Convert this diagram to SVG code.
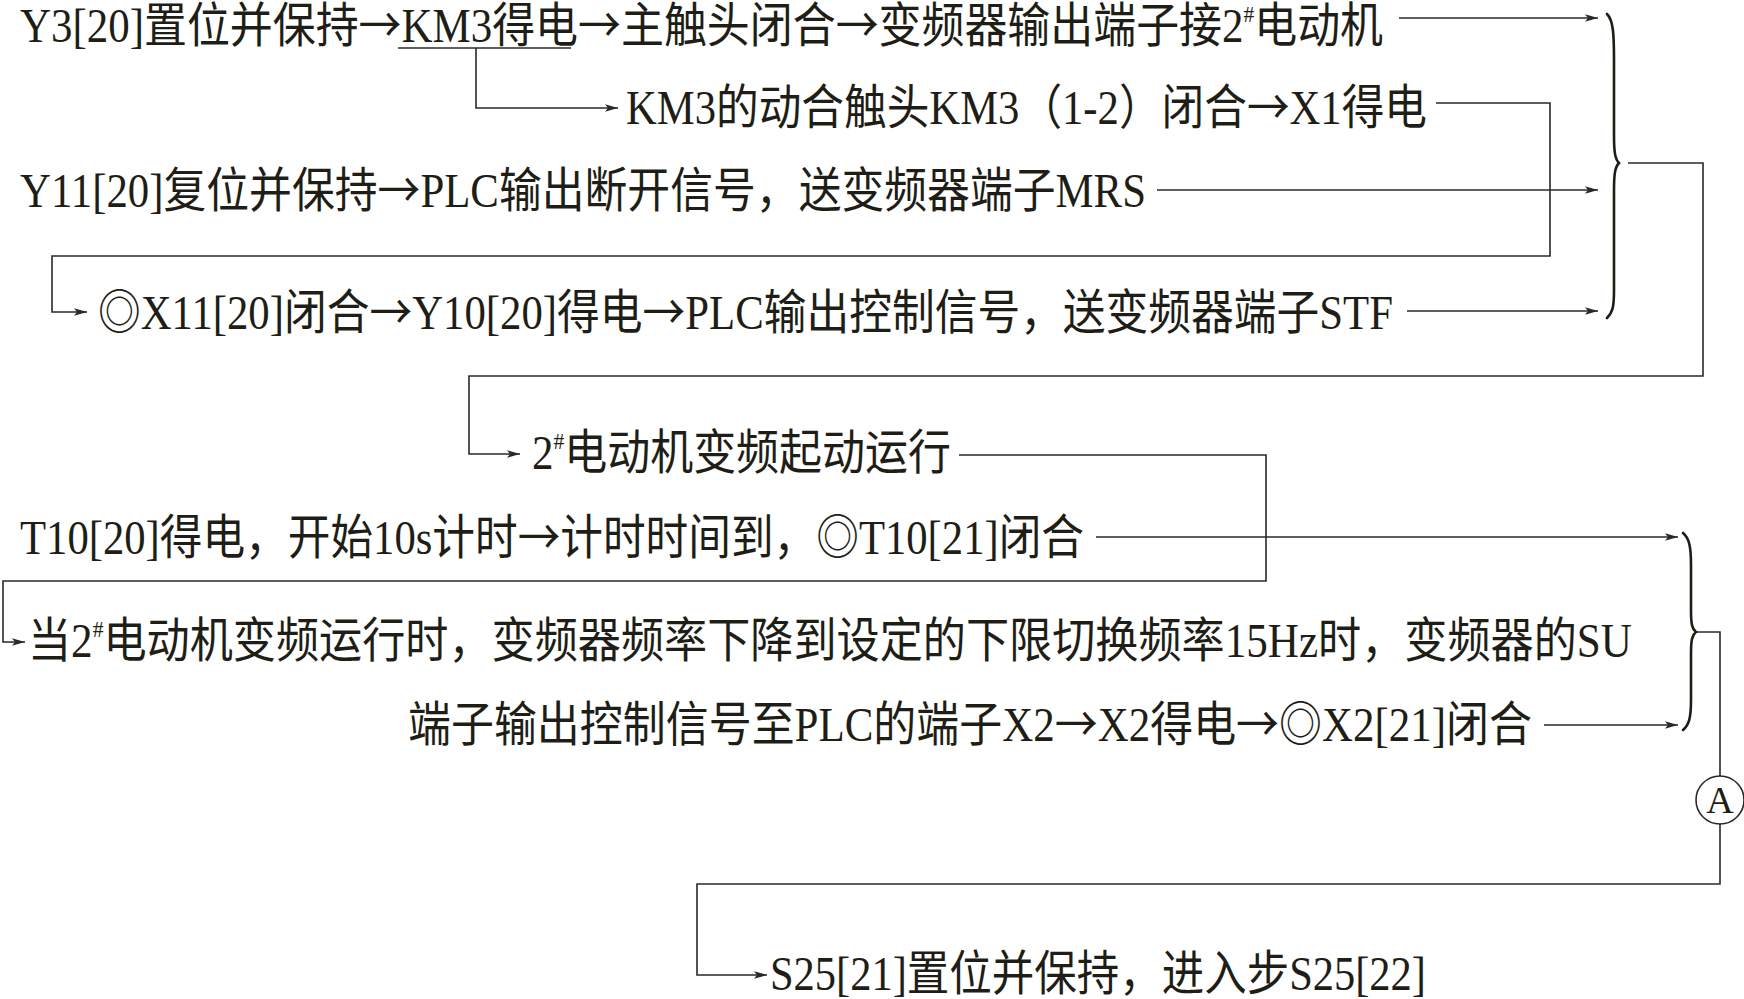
<svg xmlns="http://www.w3.org/2000/svg" width="1744" height="999" viewBox="0 0 1744 999">
<defs>
<style>
.t{font-family:"Liberation Serif","Noto Sans CJK SC",serif;font-size:48px;fill:#1e1e16}
.ar{font-family:"Noto Sans CJK SC",sans-serif}
.sup{font-size:24px}
.ln{fill:none;stroke:#2a2a24;stroke-width:1.6}
.br{fill:none;stroke:#1e1e16;stroke-width:2.6;stroke-linecap:round}
</style>
<marker id="ah" markerUnits="userSpaceOnUse" markerWidth="14" markerHeight="10" refX="13" refY="5" orient="auto">
<path d="M0,1.2 L13,5 L0,8.8 L3,5 z" fill="#2a2a24"/>
</marker>
</defs>
<rect width="1744" height="999" fill="#ffffff"/>

<g id="n1"><text class="t" x="20" y="42" textLength="1363" lengthAdjust="spacingAndGlyphs">Y3[20]置位并保持<tspan class="ar">→</tspan>KM3得电<tspan class="ar">→</tspan>主触头闭合<tspan class="ar">→</tspan>变频器输出端子接2<tspan class="sup" dy="-20">#</tspan><tspan dy="20">电动机</tspan></text></g>
<g id="n2"><text class="t" x="626" y="124" textLength="801" lengthAdjust="spacingAndGlyphs">KM3的动合触头KM3（1-2）闭合<tspan class="ar">→</tspan>X1得电</text></g>
<g id="n3"><text class="t" x="20" y="207" textLength="1126" lengthAdjust="spacingAndGlyphs">Y11[20]复位并保持<tspan class="ar">→</tspan>PLC输出断开信号，送变频器端子MRS</text></g>
<g id="n4"><text class="t" x="98" y="329" textLength="1295" lengthAdjust="spacingAndGlyphs">◎X11[20]闭合<tspan class="ar">→</tspan>Y10[20]得电<tspan class="ar">→</tspan>PLC输出控制信号，送变频器端子STF</text></g>
<g id="n5"><text class="t" x="532" y="469" textLength="419" lengthAdjust="spacingAndGlyphs">2<tspan class="sup" dy="-20">#</tspan><tspan dy="20">电动机变频起动运行</tspan></text></g>
<g id="n6"><text class="t" x="20" y="554" textLength="1064" lengthAdjust="spacingAndGlyphs">T10[20]得电，开始10s计时<tspan class="ar">→</tspan>计时时间到，◎T10[21]闭合</text></g>
<g id="n7"><text class="t" x="28" y="657" textLength="1604" lengthAdjust="spacingAndGlyphs">当2<tspan class="sup" dy="-20">#</tspan><tspan dy="20">电动机变频运行时，变频器频率下降到设定的下限切换频率15Hz时，变频器的SU</tspan></text></g>
<g id="n8"><text class="t" x="408" y="741" textLength="1124" lengthAdjust="spacingAndGlyphs">端子输出控制信号至PLC的端子X2<tspan class="ar">→</tspan>X2得电<tspan class="ar">→</tspan>◎X2[21]闭合</text></g>
<g id="n9"><text class="t" x="770" y="990" textLength="656" lengthAdjust="spacingAndGlyphs">S25[21]置位并保持，进入步S25[22]</text></g>
<g id="nA">
<circle cx="1720" cy="800" r="24" fill="#ffffff" stroke="#2a2a24" stroke-width="1.6"/>
<text x="1720" y="813" text-anchor="middle" style="font-family:'Liberation Serif',serif;font-size:38px;fill:#1e1e16">A</text>
</g>

<g id="connectors">
<path class="ln" d="M398,48 H571"/>
<path class="ln" d="M476,48 V108 H618" marker-end="url(#ah)"/>
<path class="ln" d="M1399,18 H1598" marker-end="url(#ah)"/>
<path class="ln" d="M1436,103 H1550 V256 H52 V312 H87" marker-end="url(#ah)"/>
<path class="ln" d="M1157,190 H1598" marker-end="url(#ah)"/>
<path class="ln" d="M1407,311 H1598" marker-end="url(#ah)"/>
<path class="br" d="M1607,14 C1613,20 1614,32 1614,60 L1614,135 C1614,152 1615,159 1619,163 C1615,167 1614,174 1614,191 L1614,290 C1614,306 1613,312 1607,318"/>
<path class="ln" d="M1628,163 H1703 V376 H469 V454 H520" marker-end="url(#ah)"/>
<path class="ln" d="M959,455 H1266 V581 H3 V642 H25" marker-end="url(#ah)"/>
<path class="ln" d="M1096,537 H1678" marker-end="url(#ah)"/>
<path class="ln" d="M1544,725 H1678" marker-end="url(#ah)"/>
<path class="br" d="M1683,533 C1689,538 1691,546 1691,565 L1691,610 C1691,624 1692,629 1696,632 C1692,635 1691,640 1691,654 L1691,700 C1691,718 1689,725 1683,730"/>
<path class="ln" d="M1696,632 H1720 V776"/>
<path class="ln" d="M1720,824 V884 H697 V975 H767" marker-end="url(#ah)"/>
</g>
</svg>
